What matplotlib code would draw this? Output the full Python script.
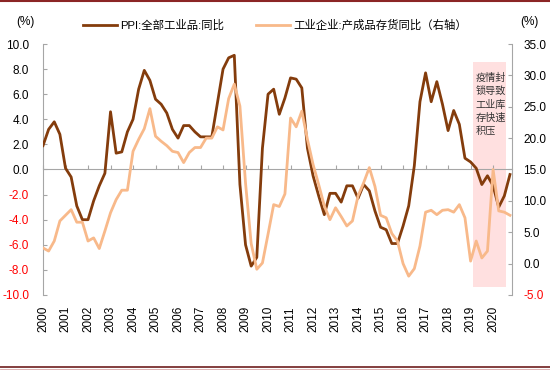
import numpy as np
import matplotlib
matplotlib.use("Agg")
import matplotlib.pyplot as plt
from matplotlib.lines import Line2D

plt.rcParams['font.family'] = ['Liberation Sans', 'Noto Sans CJK SC']

# quarterly data, 2000Q1 .. 2020Q4
ppi = [1.9, 3.2, 3.8, 2.8, 0.1, -0.6, -2.9, -4.0,
       -4.0, -2.5, -1.3, -0.3, 4.6, 1.3, 1.4, 3.0,
       4.0, 6.4, 7.9, 7.1, 5.6, 5.2, 4.5, 3.2,
       2.5, 3.5, 3.5, 3.0, 2.6, 2.6, 2.6, 5.3,
       8.0, 8.9, 9.1, -1.2, -6.0, -7.7, -7.0, 1.7,
       6.0, 6.4, 4.4, 5.7, 7.3, 7.2, 6.5, 1.7,
       -0.5, -2.1, -3.6, -1.9, -1.9, -2.6, -1.3, -1.3,
       -2.3, -1.2, -1.7, -3.3, -4.6, -4.8, -5.9, -5.9,
       -4.5, -2.9, 0.3, 5.4, 7.7, 5.4, 7.0, 5.2,
       3.1, 4.7, 3.6, 0.9, 0.6, 0.1, -1.2, -0.5,
       -1.3, -3.0, -2.1, -0.4]
inventory = [2.5, 2.0, 3.6, 6.8, 7.7, 8.6, 6.6, 6.6,
             3.6, 4.1, 2.4, 5.2, 8.1, 10.2, 11.7, 11.7,
             17.9, 19.8, 21.5, 24.7, 20.3, 19.5, 18.8, 17.9,
             17.7, 16.1, 17.7, 18.5, 18.5, 20.0, 20.0, 21.8,
             21.3, 26.3, 28.6, 25.1, 12.8, 3.2, -0.9, 0.1,
             4.7, 9.4, 9.1, 11.1, 23.2, 21.8, 24.3, 19.8,
             15.8, 12.6, 9.2, 7.0, 8.9, 7.5, 6.0, 6.8,
             10.8, 12.9, 15.3, 12.3, 7.7, 7.3, 4.8, 3.6,
             0.0, -2.0, -0.8, 2.8, 8.2, 8.5, 7.8, 8.5,
             8.6, 8.2, 9.4, 7.3, 0.4, 3.6, 0.9, 2.0,
             15.0, 8.4, 8.2, 7.7]
t = 2000 + np.arange(len(ppi)) / 4.0
years = list(range(2000, 2021))

label_ppi = "PPI:全部工业品:同比"
label_inv = "工业企业:产成品存货同比（右轴）"
note = "疫情封\n锁导致\n工业库\n存快速\n积压"

dark = "#843C0C"
light = "#F8B98A"
grey = "#A6A6A6"

fig = plt.figure(figsize=(5.5, 3.71), dpi=100)
ax = fig.add_axes([0.0782, 0.2049, 0.8527, 0.6765])
ax2 = ax.twinx()

ax.axvspan(2019.1, 2020.58, ymin=0.031, ymax=0.929, color="#FFE0E0", lw=0, zorder=0)
l1, = ax.plot(t, ppi, color=dark, lw=2.0, zorder=3)
l2, = ax2.plot(t, inventory, color=light, lw=2.0)
ax.text(2019.22, 7.7, note, ha="left", va="top", fontsize=7.3, linespacing=1.4,
        color="#333333", family=['Noto Sans CJK SC'], zorder=4)

ax.set_xlim(2000, 2020.84)
ax.set_ylim(-10, 10)
ax2.set_ylim(-5, 35)
ax.set_yticks(np.arange(-10, 10.1, 2))
ax2.set_yticks(np.arange(-5, 35.1, 5))
ax.set_yticklabels([f"{v:.1f}" for v in np.arange(-10, 10.1, 2)])
ax2.set_yticklabels([f"{v:.1f}" for v in np.arange(-5, 35.1, 5)])
for lab, v in zip(ax.get_yticklabels(), np.arange(-10, 10.1, 2)):
    lab.set_color("red" if v < 0 else "black")
for lab, v in zip(ax2.get_yticklabels(), np.arange(-5, 35.1, 5)):
    lab.set_color("red" if v < 0 else "black")

ax.set_xticks(years)
ax.set_xticklabels([str(y) for y in years], rotation=90)
ax.tick_params(axis="x", length=0, pad=8, labelsize=8.5)
ax.tick_params(axis="y", direction="in", length=3, color=grey, pad=10, labelsize=8.5)
ax2.tick_params(axis="y", direction="in", length=3, color=grey, pad=8, labelsize=8.5)

for a in (ax, ax2):
    a.spines["top"].set_visible(False)
    a.spines["bottom"].set_visible(False)
    a.spines["left"].set_color(grey)
    a.spines["right"].set_color(grey)
ax.spines["right"].set_visible(False)
ax2.spines["left"].set_visible(False)

# zero line with year ticks
zero = ax.secondary_xaxis(0.5)
zero.set_xticks(years)
zero.tick_params(direction="out", length=3, color=grey, labeltop=False, labelbottom=False)
for s in zero.spines.values():
    s.set_color(grey)

fig.text(25 / 550, 1 - 22 / 371, "(%)", ha="center", va="center", fontsize=8.5)
fig.text(529 / 550, 1 - 22 / 371, "(%)", ha="center", va="center", fontsize=8.5)

fig.legend([l1, l2], [label_ppi, label_inv], loc="center", bbox_to_anchor=(0.5, 0.933),
           ncol=2, frameon=False, fontsize=8.2, handlelength=3.0, columnspacing=2.8,
           handletextpad=0.3)

fig.add_artist(Line2D([0, 1], [0.998, 0.998], color="#8B2525", lw=1.5, transform=fig.transFigure))
fig.add_artist(Line2D([0, 1], [0.011, 0.011], color="#6E1E1E", lw=1.2, transform=fig.transFigure))
fig.add_artist(Line2D([0, 1], [0.005, 0.005], color="#D8A8A8", lw=0.6, transform=fig.transFigure))

fig.savefig("out.png", dpi=100)
